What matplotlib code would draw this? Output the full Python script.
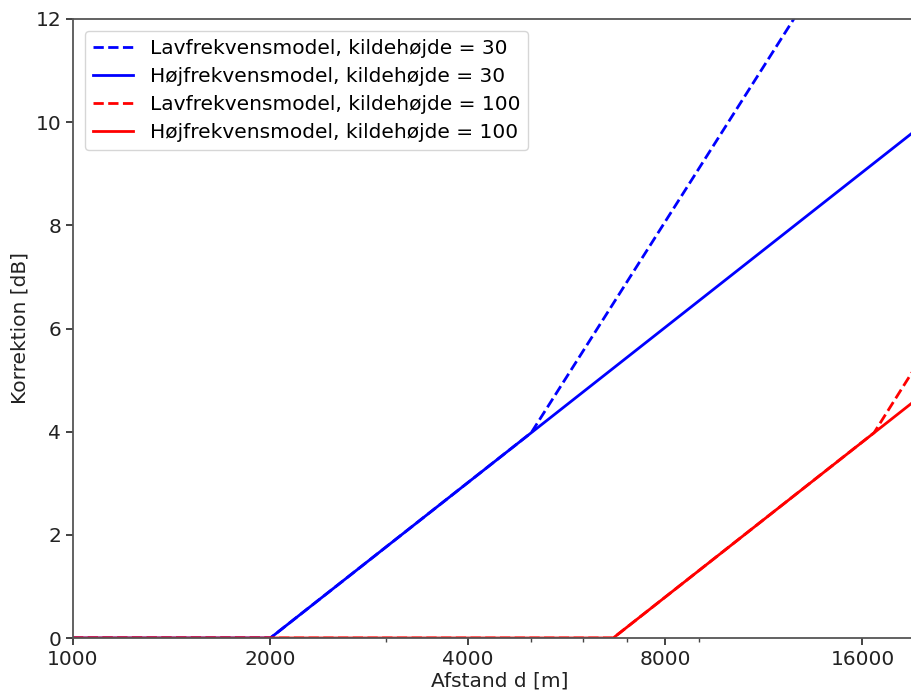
import matplotlib
matplotlib.use("Agg")
import matplotlib.pyplot as plt
from matplotlib.ticker import FixedLocator, ScalarFormatter, NullFormatter, LogLocator

# Breakpoints of each correction curve (distance in m, correction in dB)
d_low_30 = [1000, 2000, 5000, 20000]
k_low_30 = [0.0, 0.0, 3.98, 16.04]
d_high_30 = [1000, 2000, 20000]
k_high_30 = [0.0, 0.0, 10.0]
d_low_100 = [1000, 6667, 16667, 20000]
k_low_100 = [0.0, 0.0, 3.98, 5.58]
d_high_100 = [1000, 6667, 20000]
k_high_100 = [0.0, 0.0, 4.77]

labels = [
    "Lavfrekvensmodel, kildehøjde = 30",
    "Højfrekvensmodel, kildehøjde = 30",
    "Lavfrekvensmodel, kildehøjde = 100",
    "Højfrekvensmodel, kildehøjde = 100",
]
x_ticks = [1000, 2000, 4000, 8000, 16000]
y_ticks = [0, 2, 4, 6, 8, 10, 12]

W, H = 911, 695
fig = plt.figure(figsize=(W / 100, H / 100), dpi=100)
left, right, bottom, top = 73, 926, 695 - 638, 695 - 19
ax = fig.add_axes([left / W, bottom / H, (right - left) / W, (top - bottom) / H])

lw = 2.0
ax.plot(d_low_30, k_low_30, color="#0000ff", ls="--", lw=lw, label=labels[0])
ax.plot(d_high_30, k_high_30, color="#0000ff", ls="-", lw=lw, label=labels[1])
ax.plot(d_low_100, k_low_100, color="#ff0000", ls="--", lw=lw, label=labels[2])
ax.plot(d_high_100, k_high_100, color="#ff0000", ls="-", lw=lw, label=labels[3])

ax.set_xscale("log")
ax.set_xlim(1000, 20000)
ax.set_ylim(0, 12)
ax.xaxis.set_major_locator(FixedLocator(x_ticks))
ax.xaxis.set_major_formatter(ScalarFormatter())
ax.xaxis.set_minor_locator(LogLocator(base=10, subs=[3, 5, 6, 7, 9]))
ax.xaxis.set_minor_formatter(NullFormatter())
ax.set_yticks(y_ticks)

fs = 14.5
ax.tick_params(axis="both", which="major", labelsize=fs, length=5, width=1.2, colors="#222222")
ax.tick_params(axis="x", which="minor", length=3, width=1.0, colors="#444444")
for s in ax.spines.values():
    s.set_color("#555555")
    s.set_linewidth(1.3)

ax.set_xlabel("Afstand d [m]", fontsize=fs, color="#222222", labelpad=2)
ax.set_ylabel("Korrektion [dB]", fontsize=fs, color="#222222")

ax.legend(loc="upper left", fontsize=fs, frameon=True, handlelength=2.0,
          borderaxespad=0.6, labelspacing=0.45)

fig.savefig("out.png", dpi=100)
